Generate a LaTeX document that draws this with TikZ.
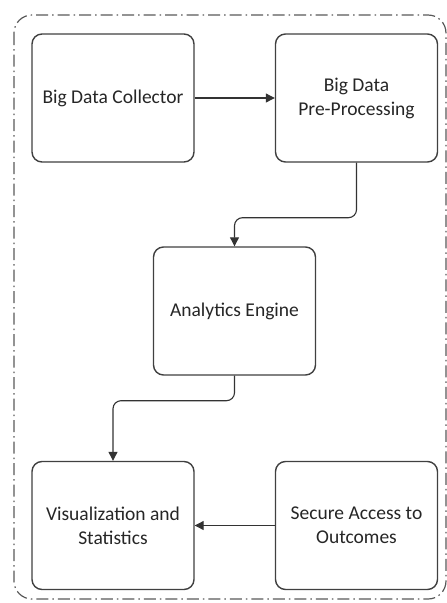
\documentclass[tikz,border=0pt]{standalone}
\usepackage{fontspec}
\setmainfont{Carlito}
\usepackage{tikz}
\usetikzlibrary{arrows.meta}
\tikzset{
stagebox/.style={rectangle, draw=black!75, fill=white, line width=1.4pt, rounded corners=10pt, minimum width=162pt, minimum height=128pt, align=center, inner sep=2pt, font=\fontsize{19.5}{24}\selectfont, text=black!85},
flowline/.style={draw=black!80, line width=1.1pt, -{Triangle[length=9pt,width=9pt]}},
outerframe/.style={draw=black!65, line width=1.2pt, rounded corners=18pt, dash pattern=on 12pt off 4pt on 1.5pt off 4pt},
}
\begin{document}
\begin{tikzpicture}[x=1pt,y=1pt]
\useasboundingbox (0,0) rectangle (447,-603);
\draw[outerframe] (14,-15) rectangle (446,-599);
\node[stagebox] at (113,-98) (collector) {Big Data Collector};
\node[stagebox] at (356.5,-98) (preproc) {Big Data\\Pre-Processing};
\node[stagebox] at (234.5,-311) (engine) {Analytics Engine};
\node[stagebox] at (113,-525.5) (visual) {Visualization and\\Statistics};
\node[stagebox] at (356.5,-525.5) (secure) {Secure Access to\\Outcomes};
\draw[flowline] (collector) -- (preproc);
\draw[flowline, rounded corners=8pt] (preproc.south) -- ++(0,-55) -| (engine.north);
\draw[flowline, rounded corners=8pt] (engine.south) -- ++(0,-25) -| (visual.north);
\draw[flowline] (secure) -- (visual);
\end{tikzpicture}
\end{document}
